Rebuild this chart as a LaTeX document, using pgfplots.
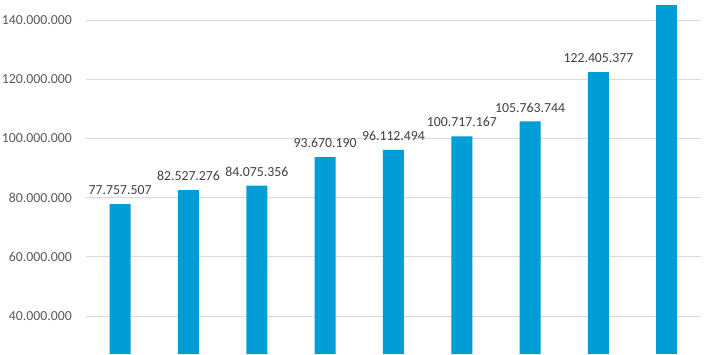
\documentclass[border=0pt]{standalone}
\usepackage{fontspec}
\setmainfont{Carlito}
\usepackage{pgfplots}
\pgfplotsset{compat=1.18}
\definecolor{barblue}{RGB}{0,157,214}
\definecolor{gridgray}{RGB}{217,217,217}
\definecolor{lblgray}{RGB}{64,64,64}
\definecolor{tickgray}{RGB}{89,89,89}
\begin{document}
\begin{tikzpicture}
\clip (-86pt,0pt) rectangle (621pt,354pt);
\begin{axis}[
  scale only axis, width=615pt, height=354pt,
  anchor=south west, at={(0pt,0pt)},
  xmin=-0.5, xmax=8.5, ymin=27160000, ymax=146760000,
  axis line style={draw=none},
  xtick=\empty,
  ytick={40000000,60000000,80000000,100000000,120000000,140000000},
  yticklabels={40.000.000,60.000.000,80.000.000,100.000.000,120.000.000,140.000.000},
  ymajorgrids, grid style={gridgray, line width=0.9pt},
  major tick length=0pt,
  y tick label style={font=\fontsize{13.8}{16}\selectfont, text=tickgray, inner sep=0pt, anchor=east, xshift=-14pt},
  clip=false,
]
\addplot[ybar, bar shift=0pt, bar width=21pt, fill=barblue, draw=none,
  nodes near coords, point meta=explicit symbolic,
  every node near coord/.append style={font=\fontsize{13.8}{16}\selectfont, text=lblgray, inner sep=0pt, anchor=south, yshift=9pt}]
  table[meta=label] {
x y label
0 77757507 77.757.507
1 82527276 82.527.276
2 84075356 84.075.356
3 93670190 93.670.190
4 96112494 96.112.494
5 100717167 100.717.167
6 105763744 105.763.744
7 122405377 122.405.377
};
\addplot[ybar, bar shift=0pt, bar width=21pt, fill=barblue, draw=none]
  table {
x y
8 145100000
};
\end{axis}
\end{tikzpicture}
\end{document}
